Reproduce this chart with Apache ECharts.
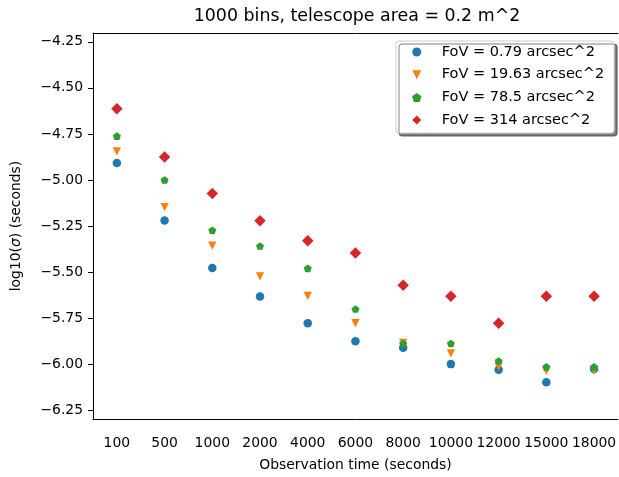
<!DOCTYPE html>
<html>
<head>
<meta charset="utf-8">
<script src="https://cdn.jsdelivr.net/npm/echarts@6/dist/echarts.min.js"></script>
<style>html,body{margin:0;padding:0;background:#fff}#chart{width:619px;height:477px}</style>
</head>
<body>
<div id="chart"></div>
<script>
var categories = ['100', '500', '1000', '2000', '4000', '6000', '8000', '10000', '12000', '15000', '18000'];
var fov079 = [-4.908, -5.220, -5.478, -5.633, -5.778, -5.876, -5.911, -6.000, -6.031, -6.099, -6.027];
var fov1963 = [-4.845, -5.148, -5.357, -5.523, -5.630, -5.778, -5.885, -5.942, -6.013, -6.036, -6.036];
var fov785 = [-4.762, -5.000, -5.273, -5.359, -5.480, -5.701, -5.888, -5.888, -5.983, -6.015, -6.015];
var fov314 = [-4.614, -4.876, -5.074, -5.222, -5.330, -5.396, -5.572, -5.631, -5.778, -5.631, -5.631];
var seriesNames = ['FoV = 0.79 arcsec^2', 'FoV = 19.63 arcsec^2', 'FoV = 78.5 arcsec^2', 'FoV = 314 arcsec^2'];
var yTicks = [-6.25, -6.00, -5.75, -5.50, -5.25, -5.00, -4.75, -4.50, -4.25];

var FONT = 'DejaVu Sans';
var pentagon = 'path://M0,-1L-0.951,-0.309L-0.588,0.809L0.588,0.809L0.951,-0.309Z';
var triDown = 'path://M-1,-1L1,-1L0,1Z';
var diamond = 'path://M0,-1L1,0L0,1L-1,0Z';

var chart = echarts.init(document.getElementById('chart'), null, {renderer: 'canvas'});
var axisLineStyle = {color: '#000', width: 1};
var option = {
  animation: false,
  backgroundColor: '#fff',
  textStyle: {fontFamily: FONT},
  title: {
    text: '1000 bins, telescope area = 0.2 m^2',
    left: 357, top: 8, padding: 0, textAlign: 'center',
    textStyle: {fontFamily: FONT, fontSize: 17.4, fontWeight: 'normal', color: '#000'}
  },
  grid: {left: 93, top: 33, width: 528, height: 392, containLabel: false},
  legend: {
    orient: 'vertical', left: 396, top: 41,
    padding: [3, 10, 5, 16],
    itemWidth: 10, itemHeight: 9, itemGap: 6.7,
    symbolKeepAspect: true,
    backgroundColor: '#fff', borderColor: '#cccccc', borderWidth: 1, borderRadius: 3,
    shadowColor: 'rgba(0,0,0,0.5)', shadowBlur: 0, shadowOffsetX: 3, shadowOffsetY: 3,
    textStyle: {fontFamily: FONT, fontSize: 14.5, color: '#000', lineHeight: 16, padding: [0, 0, 0, 15]},
    data: seriesNames
  },
  xAxis: [{
    type: 'category', data: categories, boundaryGap: true,
    axisLine: {lineStyle: axisLineStyle},
    axisTick: {alignWithLabel: true, interval: 0, length: 5, lineStyle: axisLineStyle},
    axisLabel: {interval: 0, margin: 17, fontFamily: FONT, fontSize: 13.9, color: '#000'},
    splitLine: {show: false},
    name: 'Observation time (seconds)', nameLocation: 'middle', nameGap: 39,
    nameTextStyle: {fontFamily: FONT, fontSize: 13.9, color: '#000'}
  }, {
    type: 'category', data: categories, position: 'top', boundaryGap: true,
    axisLine: {lineStyle: axisLineStyle}, axisTick: {show: false}, axisLabel: {show: false}
  }],
  yAxis: [{
    type: 'value', min: -6.298, max: -4.202,
    axisLine: {show: true, lineStyle: axisLineStyle},
    axisTick: {show: true, length: 5, lineStyle: axisLineStyle, customValues: yTicks},
    axisLabel: {
      margin: 10, fontFamily: FONT, fontSize: 13.9, color: '#000', customValues: yTicks,
      formatter: function (v) { return v.toFixed(2).replace('-', '\u2212'); }
    },
    splitLine: {show: false},
    name: 'log10({i|σ}) (seconds)', nameLocation: 'middle', nameGap: 70, nameRotate: 90,
    nameTextStyle: {fontFamily: FONT, fontSize: 13.9, color: '#000',
      rich: {i: {fontFamily: FONT, fontSize: 13.9, fontStyle: 'italic', color: '#000'}}}
  }],
  series: [
    {name: seriesNames[0], type: 'scatter', data: fov079, symbol: 'circle', symbolSize: 8.5,
     itemStyle: {color: '#1f77b4', opacity: 1}},
    {name: seriesNames[1], type: 'scatter', data: fov1963, symbol: triDown, symbolSize: [8.3, 8.3],
     itemStyle: {color: '#ff7f0e', opacity: 1}},
    {name: seriesNames[2], type: 'scatter', data: fov785, symbol: pentagon, symbolSize: [8, 7.6],
     itemStyle: {color: '#2ca02c', opacity: 1}},
    {name: seriesNames[3], type: 'scatter', data: fov314, symbol: diamond, symbolSize: [11.5, 11.5],
     itemStyle: {color: '#d62728', opacity: 1}}
  ]
};
chart.setOption(option);
</script>
</body>
</html>
